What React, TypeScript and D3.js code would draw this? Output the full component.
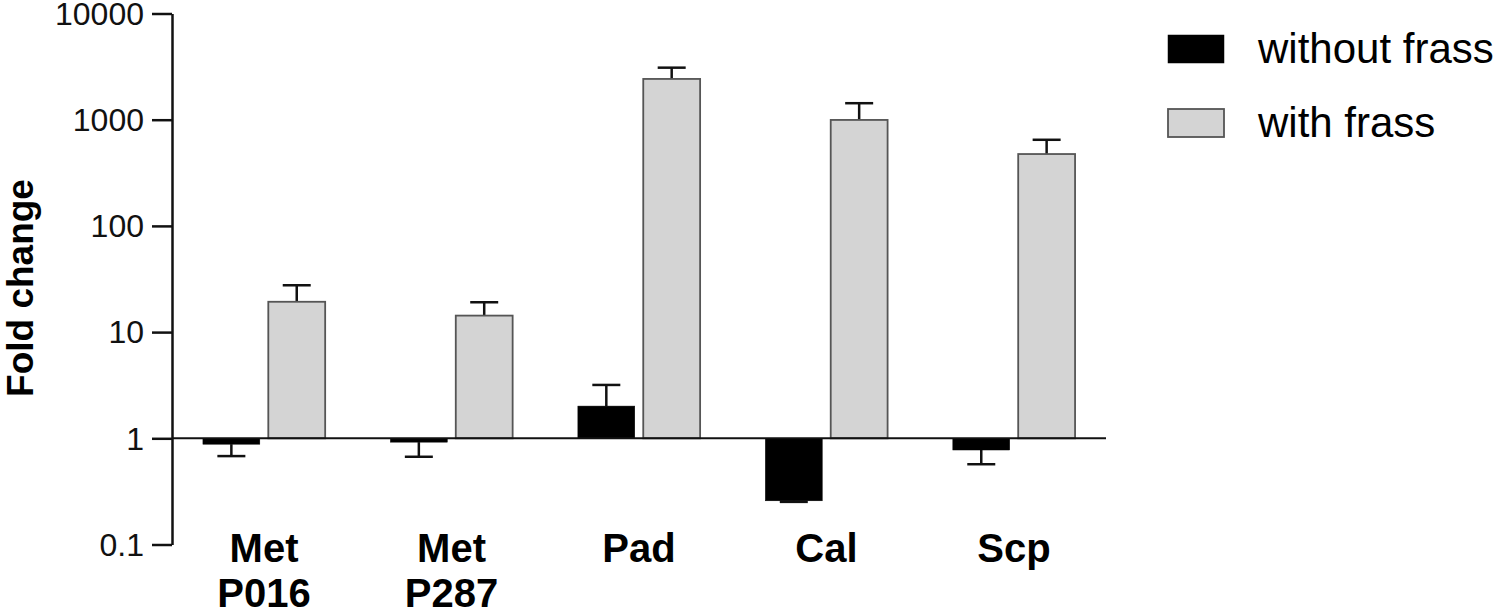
import * as d3 from "d3";
import { useEffect, useRef } from "react";

const categories = ["Met\nP016", "Met\nP287", "Pad", "Cal", "Scp"];
const seriesNames = ["without frass", "with frass"];
const withoutFrass = [0.88, 0.92, 2.01, 0.258, 0.776];
const withoutFrassErr = [0.68, 0.67, 3.18, 0.252, 0.57];
const withFrass = [19.3, 14.3, 2420, 995, 475];
const withFrassErr = [27.6, 19.1, 3090, 1430, 647];
const yTicks = [0.1, 1, 10, 100, 1000, 10000];

const colors = ["#000000", "#d4d4d4"];
const strokes = ["#000000", "#555555"];

const App = () => {
  const ref = useRef(null);

  useEffect(() => {
    const svg = d3.select(ref.current);
    svg.selectAll("*").remove();

    const axisX = 172;
    const endX = 1106;

    const y = d3.scaleLog().domain([0.1, 10000]).range([544.5, 13.5]);
    const x = d3
      .scaleBand()
      .domain(categories)
      .range([axisX, endX])
      .paddingInner(0.348)
      .paddingOuter(0.165);
    const sub = d3
      .scaleBand()
      .domain(seriesNames)
      .range([0, x.bandwidth()])
      .paddingInner(0.13);

    const font = "'Liberation Sans', Arial, sans-serif";
    const base = y(1);

    // Balken
    const series = [
      { name: seriesNames[0], vals: withoutFrass, errs: withoutFrassErr },
      { name: seriesNames[1], vals: withFrass, errs: withFrassErr },
    ];

    series.forEach((s, si) => {
      const g = svg.append("g");
      categories.forEach((c, i) => {
        const bx = x(c) + sub(s.name);
        const vy = y(s.vals[i]);
        const ey = y(s.errs[i]);
        const cx = bx + sub.bandwidth() / 2;
        // Fehlerbalken
        g.append("line")
          .attr("x1", cx)
          .attr("x2", cx)
          .attr("y1", vy)
          .attr("y2", ey)
          .attr("stroke", "#111")
          .attr("stroke-width", 2.5);
        g.append("line")
          .attr("x1", cx - 14)
          .attr("x2", cx + 14)
          .attr("y1", ey)
          .attr("y2", ey)
          .attr("stroke", "#111")
          .attr("stroke-width", 2.5);
        g.append("rect")
          .attr("x", bx)
          .attr("y", Math.min(vy, base))
          .attr("width", sub.bandwidth())
          .attr("height", Math.abs(base - vy))
          .attr("fill", colors[si])
          .attr("stroke", strokes[si])
          .attr("stroke-width", si === 1 ? 1.8 : 0.5);
      });
    });

    // Basislinie bei 1
    svg.append("line")
      .attr("x1", axisX)
      .attr("x2", endX)
      .attr("y1", base)
      .attr("y2", base)
      .attr("stroke", "#111")
      .attr("stroke-width", 2);

    // Y-Achse
    const yAxis = svg
      .append("g")
      .attr("transform", `translate(${axisX},0)`)
      .call(
        d3
          .axisLeft(y)
          .tickValues(yTicks)
          .tickFormat((d) => String(d))
          .tickSize(20)
          .tickSizeOuter(0)
          .tickPadding(8)
      );
    yAxis.select(".domain").attr("stroke", "#111").attr("stroke-width", 2.5);
    yAxis.selectAll(".tick line").attr("stroke", "#111").attr("stroke-width", 2.5);
    yAxis
      .selectAll(".tick text")
      .attr("font-family", font)
      .attr("font-size", 32)
      .attr("fill", "#111")
      .attr("dy", "0.34em");

    // Achsentitel
    svg.append("text")
      .attr("transform", `translate(33,288) rotate(-90)`)
      .attr("text-anchor", "middle")
      .attr("font-family", font)
      .attr("font-weight", "bold")
      .attr("font-size", 37)
      .attr("fill", "#000")
      .text("Fold change");

    // Kategorien
    categories.forEach((c) => {
      const t = svg
        .append("text")
        .attr("x", x(c) + x.bandwidth() / 2)
        .attr("y", 562)
        .attr("text-anchor", "middle")
        .attr("font-family", font)
        .attr("font-weight", "bold")
        .attr("font-size", 40)
        .attr("fill", "#000");
      c.split("\n").forEach((line, li) => {
        t.append("tspan")
          .attr("x", x(c) + x.bandwidth() / 2)
          .attr("dy", li === 0 ? 0 : 45)
          .text(line);
      });
    });

    // Legende
    seriesNames.forEach((n, i) => {
      const ly = 35 + i * 74;
      svg.append("rect")
        .attr("x", 1168)
        .attr("y", ly)
        .attr("width", 56)
        .attr("height", 28)
        .attr("fill", colors[i])
        .attr("stroke", strokes[i])
        .attr("stroke-width", i === 1 ? 1.8 : 0.5);
      svg.append("text")
        .attr("x", 1258)
        .attr("y", ly + 28)
        .attr("font-family", font)
        .attr("font-size", 42)
        .attr("fill", "#000")
        .text(n);
    });
  }, []);

  return (
    <svg
      ref={ref}
      width="1500"
      height="614"
      style={{ position: "absolute", left: 0, top: 0, background: "#fff" }}
    ></svg>
  );
};

export default App;
